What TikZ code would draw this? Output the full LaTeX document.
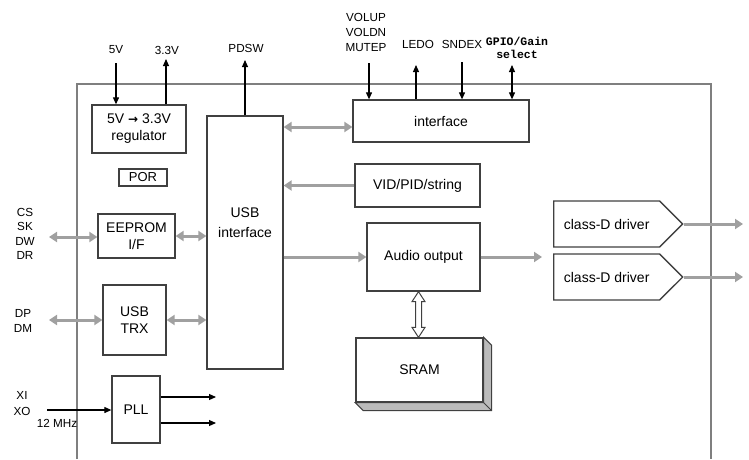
\documentclass[tikz,border=0pt]{standalone}
\usepackage{fontspec}
\setmainfont{Liberation Sans}
\newfontfamily\codefont{Liberation Mono}
\newfontfamily\symfont{DejaVu Sans}
\usetikzlibrary{calc,positioning,shapes,arrows.meta}

\definecolor{boxgray}{HTML}{404040}
\definecolor{busgray}{HTML}{A0A0A0}
\definecolor{framegray}{HTML}{7F7F7F}
\definecolor{ramside}{HTML}{BBBBBB}

\tikzset{
  blk/.style={draw=boxgray, line width=1.3pt, fill=white, inner sep=0pt,
    align=center, font=\fontsize{14}{17}\selectfont},
  lbl/.style={inner sep=0pt, align=center, font=\fontsize{11.7}{15}\selectfont},
  bus/.style={draw=busgray, line width=3pt, >={Triangle[length=8pt,width=10pt]}},
  sig/.style={draw=black, line width=1.1pt, >={Triangle[length=7pt,width=6pt]}},
  drv/.style={blk, signal, signal to=east, signal pointer angle=90, anchor=west,
    minimum width=129pt, minimum height=46pt}
}

\begin{document}
\begin{tikzpicture}[x=1pt,y=-1pt]
    \useasboundingbox (0,0) rectangle (749,459);

    % chip outline
    \draw[framegray, line width=1.4pt] (77,459) -- (77,84) -- (711,84) -- (711,459);

    \node[blk, minimum width=94pt, minimum height=48pt] (reg) at (139,129)
      {5V {\symfont\bfseries\fontsize{12}{12}\selectfont →} 3.3V\\regulator};
    \node[blk, minimum width=48pt, minimum height=17pt, font=\fontsize{13}{15}\selectfont] (por) at (143,177.5) {POR};
    \node[blk, minimum width=77pt, minimum height=44pt] (eep) at (136.5,236) {EEPROM\\I/F};
    \node[blk, minimum width=63pt, minimum height=70pt] (trx) at (134.5,320) {USB\\TRX};
    \node[blk, minimum width=48pt, minimum height=67pt] (pll) at (136,409.5) {PLL};
    \node[blk, minimum width=76pt, minimum height=253pt] (usb) at (245,242.5) {};
    \node[align=center, inner sep=0pt, font=\fontsize{14}{20}\selectfont]
      (usbtxt) at ($(usb.center)+(0,-19.5)$) {USB\\interface};

    \node[blk, minimum width=176pt, minimum height=42pt] (intf) at (441,121) {interface};
    \node[blk, minimum width=125pt, minimum height=43pt] (vid) at (417.5,185.5) {VID/PID/string};
    \node[blk, minimum width=113pt, minimum height=68pt] (aud) at (423.5,257) {Audio output};
    \node[blk, minimum width=127pt, minimum height=64pt] (sram) at (419.5,370) {SRAM};
    \filldraw[fill=ramside, draw=boxgray, line width=1pt] (sram.north east) -- ++(8,8)
      -- ($(sram.south east)+(8,8)$) -- ($(sram.south west)+(8,8)$)
      -- (sram.south west) -- (sram.south east) -- cycle;
    \draw[boxgray, line width=1pt] (sram.south east) -- ++(8,8);

    \node[drv] (drv1) at (553,224) {class-D driver};
    \node[drv] (drv2) at (553,277) {class-D driver};

    % pins
    \coordinate (p5) at (116,63);
    \coordinate (p33) at (166,59);
    \coordinate (ppd) at (245,60);
    \coordinate (pvol) at (369,63);
    \coordinate (pled) at (416,65);
    \coordinate (psnd) at (462,62);
    \coordinate (pgp) at (512,65);
    \coordinate (pcs) at (49,237);
    \coordinate (pdp) at (49,320);
    \coordinate (pxi) at (47,410);
    \coordinate (po1) at (216,397);
    \coordinate (po2) at (216,423);
    \coordinate (paud) at (542,257);
    \coordinate (pd1) at (743,224);
    \coordinate (pd2) at (743,277);
    \coordinate (ub) at ([yshift=-6pt]intf.west);
    \coordinate (rt) at ([xshift=-5pt]aud.south);
    \coordinate (rb) at (rt |- sram.north);

    \node[lbl] (l5) at (116,50) {5V};
    \node[lbl] (l33) at (167,50) {3.3V};
    \node[lbl] (lpd) at (246,48) {PDSW};
    \node[lbl] (lvol) at (366,32) {VOLUP\\VOLDN\\MUTEP};
    \node[lbl] (lled) at (418,44) {LEDO};
    \node[lbl] (lsnd) at (462,44) {SNDEX};
    \node[lbl, font=\codefont\bfseries\fontsize{11.5}{12.5}\selectfont] (lgp) at (517,48) {GPIO/Gain\\select};
    \node[lbl, font=\fontsize{11.7}{14.3}\selectfont] (lcs) at (25,234) {CS\\SK\\DW\\DR};
    \node[lbl] (ldp) at (23,321) {DP\\DM};
    \node[lbl, font=\fontsize{11.7}{16}\selectfont] (lxi) at (22,404) {XI\\XO};
    \node[lbl] (lmhz) at (57,423) {12 MHz};

    \draw[sig,->] (p5) -- (reg.north -| p5);
    \draw[sig,->] (reg.north -| p33) -- (p33);
    \draw[sig,->] (usb.north) -- (ppd);
    \draw[sig,->] (pvol) -- (intf.north -| pvol);
    \draw[sig,->] (intf.north -| pled) -- (pled);
    \draw[sig,->] (psnd) -- (intf.north -| psnd);
    \draw[sig,<->] (pgp) -- (intf.north -| pgp);
    \draw[sig,->] (pxi) -- (pxi -| pll.west);
    \draw[sig,->] (pll.east |- po1) -- (po1);
    \draw[sig,->] (pll.east |- po2) -- (po2);

    \draw[bus,<->] (pcs) -- (pcs -| eep.west);
    \draw[bus,<->] (eep.east) -- (eep.east -| usb.west);
    \draw[bus,<->] (pdp) -- (pdp -| trx.west);
    \draw[bus,<->] (trx.east) -- (trx.east -| usb.west);
    \draw[bus,<->] (usb.east |- ub) -- (ub);
    \draw[bus,->] (vid.west) -- (vid.west -| usb.east);
    \draw[bus,->] (aud.west -| usb.east) -- (aud.west);
    \draw[bus,->] (aud.east) -- (paud);
    \draw[bus,->] (drv1.east) -- (pd1);
    \draw[bus,->] (drv2.east) -- (pd2);

    % hollow link to the RAM
    \filldraw[fill=white, draw=boxgray, line width=1pt, line join=miter]
      (rt) -- ++(6.5,10) -- ++(-3.5,0) -- ($(rb)+(3,-10)$) -- ++(3.5,0) -- (rb)
      -- ++(-6.5,-10) -- ++(3.5,0) -- ($(rt)+(-3,10)$) -- ++(-3.5,0) -- cycle;
  \end{tikzpicture}
\end{document}
